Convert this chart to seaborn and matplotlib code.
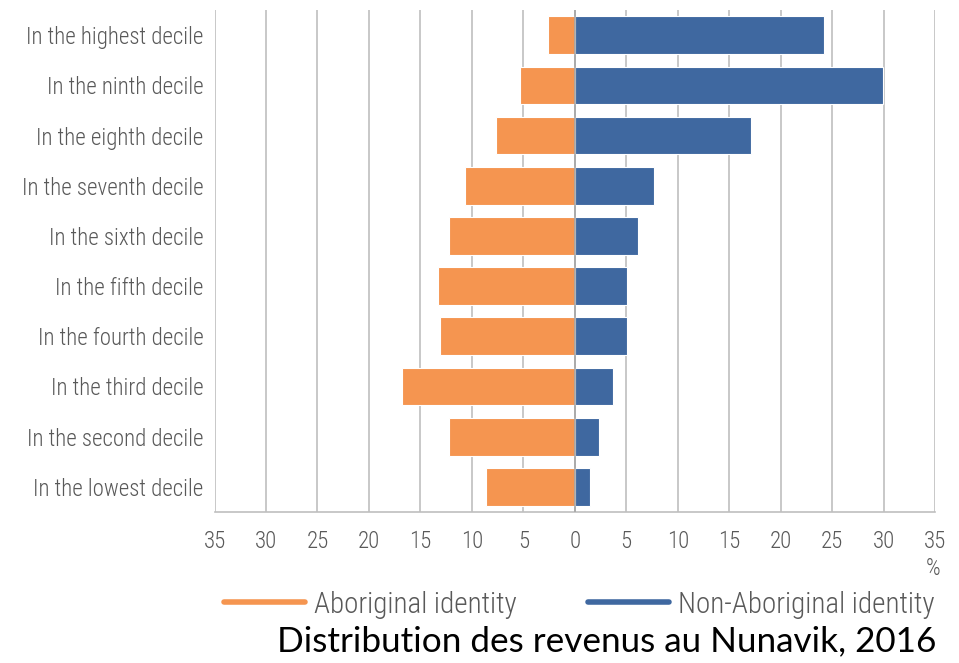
import pandas as pd
import matplotlib.pyplot as plt
import seaborn as sns
from matplotlib import font_manager
from matplotlib.lines import Line2D

# Données (en %)
deciles = ['In the highest decile', 'In the ninth decile', 'In the eighth decile',
           'In the seventh decile', 'In the sixth decile', 'In the fifth decile',
           'In the fourth decile', 'In the third decile', 'In the second decile',
           'In the lowest decile']
aboriginal = [2.6, 5.3, 7.7, 10.7, 12.2, 13.3, 13.1, 16.8, 12.2, 8.6]
non_aboriginal = [24.2, 29.9, 17.1, 7.7, 6.1, 5.1, 5.1, 3.7, 2.4, 1.5]
ticks = [-35, -30, -25, -20, -15, -10, -5, 0, 5, 10, 15, 20, 25, 30, 35]

orange = '#F59550'
blue = '#3F68A0'
grey_txt = '#595959'

# Police condensée (Roboto Condensed, light si possible)
cond = [f for f in font_manager.fontManager.ttflist
        if f.name == 'Roboto Condensed' and f.style == 'normal']
light = [f for f in cond if f.weight in (300, 'light')]
regular = [f for f in cond if f.weight in (400, 'normal', 'regular')]
if light:
    fp = font_manager.FontProperties(fname=light[0].fname)
elif regular:
    fp = font_manager.FontProperties(fname=regular[0].fname)
else:
    fp = font_manager.FontProperties(family='Roboto')

# DataFrame long : Aboriginal à gauche (valeurs négatives)
df = pd.DataFrame({
    'decile': deciles * 2,
    'valeur': [-v for v in aboriginal] + non_aboriginal,
    'groupe': ['Aboriginal identity'] * len(deciles) + ['Non-Aboriginal identity'] * len(deciles),
})

sns.set_style('white')

fig = plt.figure(figsize=(9.59, 6.63), dpi=100)
ax = fig.add_axes([0.2237, 0.2278, 0.7513, 0.757])

sns.barplot(data=df, y='decile', x='valeur', hue='groupe', order=deciles,
            palette=[orange, blue], saturation=1, dodge=False, orient='h', width=0.75,
            edgecolor='white', linewidth=0.8, legend=False, ax=ax, zorder=3)

ax.set_xlim(-35, 35)
ax.set_ylim(len(deciles) - 0.5, -0.5)
ax.set_xticks(ticks)
ax.set_xticklabels([str(abs(t)) for t in ticks])
ax.set_yticks(range(len(deciles)))
ax.set_yticklabels(deciles)
for lab in ax.get_xticklabels() + ax.get_yticklabels():
    lab.set_fontproperties(fp)
    lab.set_fontsize(16.5)
    lab.set_color(grey_txt)
ax.tick_params(axis='y', length=0, pad=8)
ax.tick_params(axis='x', length=0, pad=13)
ax.set_xlabel('')
ax.set_ylabel('')

# Grille verticale
ax.grid(axis='x', color='#BFBFBF', linewidth=1.2, zorder=0)
ax.axvline(0, color='#A6A6A6', linewidth=1.2, zorder=4)
for side in ['top', 'right', 'left']:
    ax.spines[side].set_visible(False)
ax.spines['bottom'].set_color('#BFBFBF')
ax.spines['bottom'].set_linewidth(1.2)

fig.text(0.981, 0.125, '%', ha='right', va='bottom', fontproperties=fp, fontsize=16.5, color=grey_txt)

handles = [Line2D([0], [0], color=orange, lw=4, solid_capstyle='round'),
           Line2D([0], [0], color=blue, lw=4, solid_capstyle='round')]
leg_fp = fp.copy()
leg_fp.set_size(21)
fig.legend(handles, ['Aboriginal identity', 'Non-Aboriginal identity'],
           loc='center', bbox_to_anchor=(0.604, 0.088), ncol=2, frameon=False,
           prop=leg_fp, labelcolor=grey_txt, handlelength=2.77, columnspacing=2.45,
           handletextpad=0.31)

fig.text(0.976, 0.033, 'Distribution des revenus au Nunavik, 2016', ha='right',
         va='center', fontsize=25.3, color='black', family=['Lato', 'DejaVu Sans'])

fig.savefig('out.png', dpi=100)
